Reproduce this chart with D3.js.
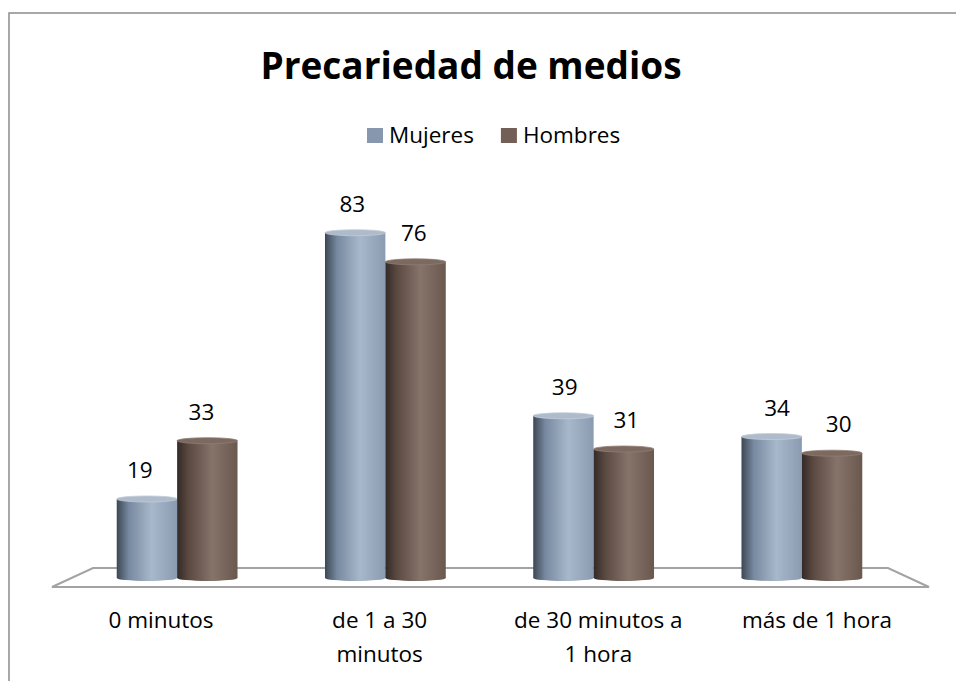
<!DOCTYPE html>
<html><head><meta charset="utf-8">
<script src="https://cdn.jsdelivr.net/npm/d3@7"></script>
<style>body{margin:0;background:#fff}svg{display:block}text{font-family:"Open Sans",sans-serif;fill:#000}</style>
</head><body><svg id="c" width="956" height="681"></svg>
<script>
const title = "Precariedad de medios";
const categories = [["0 minutos"], ["de 1 a 30", "minutos"], ["de 30 minutos a", "1 hora"], ["más de 1 hora"]];
const seriesNames = ["Mujeres", "Hombres"];
const mujeres = [19, 83, 39, 34];
const hombres = [33, 76, 31, 30];

const svg = d3.select("#c");
const colors = {Mujeres: ["#3c4754", "#7789a0", "#a8b8cb", "#8a9bb1"], Hombres: ["#342a26", "#5c4b43", "#86736a", "#6a574e"]};
const legendColors = {Mujeres: "#8797ad", Hombres: "#735f56"};
const topColors = {Mujeres: "#aebbcb", Hombres: "#7c695f"};

const defs = svg.append("defs");
seriesNames.forEach(s => {
  const g = defs.append("linearGradient").attr("id", "g" + s).attr("x1", 0).attr("x2", 1).attr("y1", 0).attr("y2", 0);
  [[0, 0], [0.2, 1], [0.58, 2], [1, 3]].forEach(([o, i]) => g.append("stop").attr("offset", o).attr("stop-color", colors[s][i]));
});

// outer border
svg.append("rect").attr("x", 9).attr("y", 13).attr("width", 980).attr("height", 700)
  .attr("fill", "none").attr("stroke", "#8c8c8c").attr("stroke-width", 1.5);

const keys = categories.map(c => c.join(" "));
const x0 = d3.scaleBand().domain(keys).range([73, 906]).paddingInner(0.42).paddingOuter(0.21);
const x1 = d3.scaleBand().domain(seriesNames).range([0, x0.bandwidth()]);
const y = d3.scaleLinear().domain([0, 100]).range([578, 162]);
// perspective: labels in front of the floor spread out around x=500
const persp = (x, k) => 500 + (x - 500) * k;

// floor
const [r0, r1] = x0.range();
const y0 = y(0);
svg.append("path")
  .attr("d", `M${r0 + 20},${y0 - 10} L${r1 - 18},${y0 - 10} L${r1 + 23},${y0 + 9} L${r0 - 21},${y0 + 9} Z`)
  .attr("fill", "none").attr("stroke", "#a3a3a3").attr("stroke-width", 2);

const data = keys.map((k, i) => ({k, vals: [{s: "Mujeres", v: mujeres[i]}, {s: "Hombres", v: hombres[i]}]}));
const bw = x1.bandwidth();
const ry = 3;
const grp = svg.selectAll("g.grp").data(data).join("g").attr("class", "grp");
const bar = grp.selectAll("g.bar").data(d => d.vals.map(v => ({...v, k: d.k}))).join("g").attr("class", "bar");
const bx = d => x0(d.k) + x1(d.s);
bar.append("ellipse").attr("cx", d => bx(d) + bw / 2).attr("cy", y0).attr("rx", bw / 2).attr("ry", ry)
  .attr("fill", d => `url(#g${d.s})`);
bar.append("rect").attr("x", d => bx(d)).attr("y", d => y(d.v)).attr("width", bw)
  .attr("height", d => y0 - y(d.v)).attr("fill", d => `url(#g${d.s})`);
bar.append("ellipse").attr("cx", d => bx(d) + bw / 2).attr("cy", d => y(d.v)).attr("rx", bw / 2).attr("ry", ry)
  .attr("fill", d => topColors[d.s]).attr("stroke", d => d.s === "Mujeres" ? "#c3ccd8" : "#8f7d74").attr("stroke-width", 0.8);
bar.append("text").attr("x", d => persp(bx(d) + bw / 2, 1.02)).attr("y", d => y(d.v) - 21)
  .attr("text-anchor", "middle").style("font-size", "22.5px").text(d => d.v);

// category labels
svg.selectAll("text.cat").data(categories).join("text").attr("class", "cat")
  .attr("text-anchor", "middle").style("font-size", "22.5px")
  .each(function(d, i) {
    const t = d3.select(this);
    const cx = persp(x0(keys[i]) + x0.bandwidth() / 2, 1.05);
    d.forEach((line, j) => t.append("tspan").attr("x", cx).attr("y", 628 + j * 34).text(line));
  });

// title
svg.append("text").attr("x", 471).attr("y", 79).attr("text-anchor", "middle")
  .style("font-size", "37px").style("font-weight", "bold").text(title);

// legend
let lx = 367;
seriesNames.forEach(s => {
  const g = svg.append("g");
  g.append("rect").attr("x", lx).attr("y", 128).attr("width", 16).attr("height", 15).attr("fill", legendColors[s]);
  const t = g.append("text").attr("x", lx + 22).attr("y", 143).style("font-size", "22.5px").text(s);
  lx += 22 + t.node().getComputedTextLength() + 27;
});
</script></body></html>
